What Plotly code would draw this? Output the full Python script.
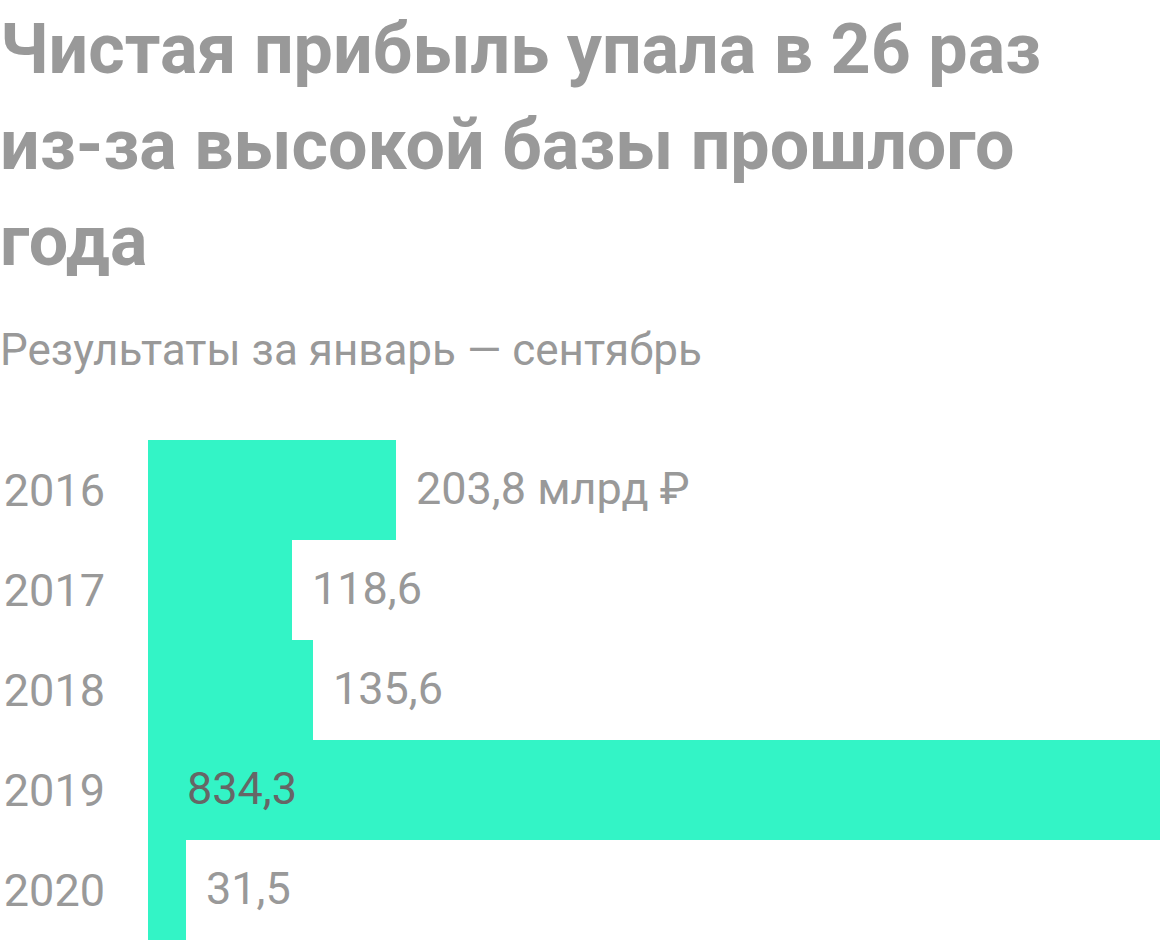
import plotly.graph_objects as go

years = ["2016", "2017", "2018", "2019", "2020"]
profit = [203.8, 118.6, 135.6, 834.3, 31.5]
label_suffix = ["млрд ₽", "", "", "", ""]
inside_label = [False, False, False, True, False]

title_lines = ["Чистая прибыль упала в 26 раз", "из-за высокой базы прошлого", "года"]
subtitle = "Результаты за январь — сентябрь"

W, H = 1160, 940
BAR = "#33f4c6"
GRAY = "#999999"
DARK = "#666666"
FONT = "Roboto"

fig = go.Figure()
fig.add_trace(go.Bar(
    x=profit, y=years, orientation="h",
    marker=dict(color=BAR, line=dict(width=0)),
    hoverinfo="skip",
))

anns = []
for i, (v, suf, ins) in enumerate(zip(profit, label_suffix, inside_label)):
    txt = f"{v:.1f}".replace(".", ",")
    if suf:
        txt += " " + suf
    if ins:
        anns.append(dict(x=0, y=i, xref="x", yref="y", text=txt, showarrow=False,
                         xanchor="left", yanchor="middle", xshift=38, yshift=2,
                         borderpad=0,
                         font=dict(family=FONT, size=45, color=DARK)))
    else:
        anns.append(dict(x=v, y=i, xref="x", yref="y", text=txt, showarrow=False,
                         xanchor="left", yanchor="middle", xshift=19, yshift=2,
                         borderpad=0,
                         font=dict(family=FONT, size=45, color=GRAY)))

title_y = [49, 145, 241]
for line, yp in zip(title_lines, title_y):
    anns.append(dict(x=0, y=1 - yp / H, xref="paper", yref="paper", text=line,
                     showarrow=False, xanchor="left", yanchor="middle", xshift=-1,
                     borderpad=0,
                     font=dict(family=FONT, size=70, color=GRAY, weight=700)))
anns.append(dict(x=0, y=1 - 350 / H, xref="paper", yref="paper", text=subtitle,
                 showarrow=False, xanchor="left", yanchor="middle", xshift=-1,
                 borderpad=0,
                 font=dict(family=FONT, size=44, color=GRAY)))

fig.update_layout(
    width=W, height=H,
    margin=dict(l=0, r=0, t=0, b=0),
    paper_bgcolor="white", plot_bgcolor="white",
    bargap=0, showlegend=False,
    xaxis=dict(domain=[148 / W, 1], range=[0, 831], visible=False, fixedrange=True),
    yaxis=dict(type="category", domain=[0, 500 / H], range=[4.5, -0.5],
               showgrid=False, zeroline=False,
               showline=False, ticks="", ticklabelstandoff=42, automargin=False,
               tickfont=dict(family=FONT, size=45, color=GRAY), fixedrange=True),
    annotations=anns,
)

fig.write_html("out.html", config={"displayModeBar": False},
               post_script="document.body.style.margin='0';document.body.style.overflow='hidden';")
